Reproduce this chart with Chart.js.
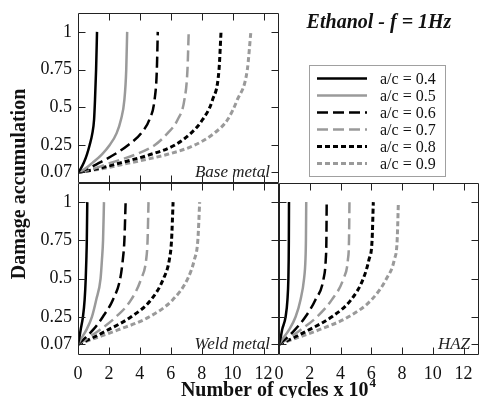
<!DOCTYPE html>
<html>
<head>
<meta charset="utf-8">
<script src="https://cdn.jsdelivr.net/npm/chart.js@4.4.1/dist/chart.umd.min.js"></script>
<style>
  body { margin: 0; background: #fff; }
  #wrap { position: relative; width: 480px; height: 398px; overflow: hidden; }
  #wrap canvas { position: absolute; left: 0; top: 0; }
</style>
</head>
<body>
<div id="wrap">
  <canvas id="baseChart" width="480" height="398"></canvas>
  <canvas id="weldChart" width="480" height="398"></canvas>
  <canvas id="hazChart" width="480" height="398"></canvas>
</div>
<script>
// a/c ratios shown in the legend
const ratios = ['0.4', '0.5', '0.6', '0.7', '0.8', '0.9'];
const xTicks = [0, 2, 4, 6, 8, 10, 12];
const yTicks = [0.07, 0.25, 0.5, 0.75, 1];

// damage levels at which the curves were read (top panel / lower panels)
const damageTop = [0.07, 0.09, 0.135, 0.19, 0.25, 0.33, 0.42, 0.55, 0.75, 1];
const damageLow = [0.07, 0.109, 0.164, 0.25, 0.362, 0.5, 0.625, 0.75, 1];

// number of cycles (x 10^4), one row per a/c
const baseCycles = [
  [0, 0.15, 0.38, 0.58, 0.75, 0.93, 1.04, 1.1, 1.17, 1.23],
  [0, 0.4, 0.95, 1.55, 2.04, 2.5, 2.78, 3.0, 3.12, 3.18],
  [0, 0.54, 1.4, 2.37, 3.23, 4.09, 4.62, 4.95, 5.1, 5.16],
  [0, 0.86, 2.15, 3.76, 4.95, 5.8, 6.45, 6.88, 7.08, 7.16],
  [0, 1.08, 2.8, 4.73, 6.24, 7.31, 8.06, 8.7, 9.12, 9.25],
  [0, 1.29, 3.44, 5.8, 7.53, 8.82, 9.68, 10.3, 10.95, 11.18]
];
const weldCycles = [
  [0, 0.08, 0.17, 0.32, 0.43, 0.5, 0.54, 0.57, 0.6],
  [0, 0.22, 0.54, 0.9, 1.18, 1.46, 1.55, 1.62, 1.68],
  [0, 0.43, 0.97, 1.61, 2.26, 2.73, 2.9, 3.0, 3.08],
  [0, 0.6, 1.4, 2.47, 3.44, 4.09, 4.41, 4.5, 4.56],
  [0, 0.86, 1.94, 3.44, 4.73, 5.53, 5.91, 6.05, 6.15],
  [0, 1.08, 2.58, 4.62, 6.13, 7.1, 7.53, 7.75, 7.87]
];
const hazCycles = [
  [0, 0.1, 0.2, 0.43, 0.55, 0.61, 0.63, 0.64, 0.65],
  [0, 0.26, 0.65, 1.08, 1.4, 1.63, 1.72, 1.75, 1.77],
  [0, 0.47, 1.03, 1.72, 2.37, 2.9, 3.04, 3.08, 3.1],
  [0, 0.6, 1.4, 2.47, 3.44, 4.19, 4.48, 4.55, 4.58],
  [0, 0.86, 1.94, 3.44, 4.69, 5.48, 5.85, 6.05, 6.13],
  [0, 1.08, 2.58, 4.52, 6.02, 6.99, 7.5, 7.68, 7.76]
];

// line styles
const lineColors = ['#000000', '#9a9a9a', '#000000', '#9a9a9a', '#000000', '#9a9a9a'];
const lineDashes = [[], [], [11, 5], [11, 5], [5, 3], [5, 3]];
const lineWidths = [2.5, 2.5, 2.5, 2.5, 3, 3];

const serif = '"Liberation Serif", "Times New Roman", serif';
const tickFont = { family: serif, size: 18 };

function makeDatasets(cycles, damage) {
  return cycles.map((row, i) => ({
    label: 'a/c = ' + ratios[i],
    data: row.map((n, k) => ({ x: n, y: damage[k] })),
    borderColor: lineColors[i],
    borderDash: lineDashes[i],
    borderWidth: lineWidths[i],
    pointRadius: 0,
    fill: false,
    cubicInterpolationMode: 'monotone'
  }));
}

// frame with inward tick marks
const framePlugin = {
  id: 'frame',
  afterDatasetsDraw(chart) {
    const { ctx, chartArea: a, scales } = chart;
    const L = Math.round(a.left) + 0.5, R = Math.round(a.right) - 0.5;
    const T = Math.round(a.top) + 0.5, B = Math.round(a.bottom) - 0.5;
    const len = 7;
    ctx.save();
    ctx.strokeStyle = '#222';
    ctx.lineWidth = 1;
    ctx.setLineDash([]);
    ctx.beginPath();
    ctx.rect(L, T, R - L, B - T);
    xTicks.forEach(v => {
      if (v === 0) return;
      const px = Math.round(scales.x.getPixelForValue(v)) + 0.5;
      ctx.moveTo(px, B); ctx.lineTo(px, B - len);
      ctx.moveTo(px, T); ctx.lineTo(px, T + len);
    });
    yTicks.forEach(v => {
      const py = Math.round(scales.y.getPixelForValue(v)) + 0.5;
      ctx.moveTo(L, py); ctx.lineTo(L + len, py);
      ctx.moveTo(R, py); ctx.lineTo(R - len, py);
    });
    ctx.stroke();
    // panel name, lower right corner
    const name = chart.options.plugins.panelName;
    if (name) {
      ctx.fillStyle = '#222';
      ctx.font = 'italic 17px ' + serif;
      ctx.textAlign = 'right';
      ctx.textBaseline = 'alphabetic';
      ctx.fillText(name, a.right - 9, a.bottom - 6);
    }
    ctx.restore();
  }
};

// title and a/c legend (top right corner)
const legendPlugin = {
  id: 'acLegend',
  afterDraw(chart) {
    const ctx = chart.ctx;
    ctx.save();
    ctx.fillStyle = '#111';
    ctx.font = 'italic bold 20px ' + serif;
    ctx.textAlign = 'center';
    ctx.textBaseline = 'alphabetic';
    ctx.fillText('Ethanol - f = 1Hz', 379, 28);

    ctx.strokeStyle = '#a0a0a0';
    ctx.lineWidth = 1;
    ctx.strokeRect(309.5, 65.5, 136, 111);
    chart.data.datasets.forEach((ds, i) => {
      const y = 78.5 + i * 17;
      ctx.beginPath();
      ctx.setLineDash(ds.borderDash);
      ctx.strokeStyle = ds.borderColor;
      ctx.lineWidth = ds.borderWidth;
      ctx.moveTo(317, y);
      ctx.lineTo(367, y);
      ctx.stroke();
      ctx.setLineDash([]);
      ctx.fillStyle = '#111';
      ctx.font = '16px ' + serif;
      ctx.textAlign = 'left';
      ctx.textBaseline = 'middle';
      ctx.fillText(ds.label, 380, y + 1);
    });
    ctx.restore();
  }
};

// shared axis titles
const axisTitlePlugin = {
  id: 'axisTitles',
  afterDraw(chart) {
    const ctx = chart.ctx;
    ctx.save();
    ctx.fillStyle = '#111';
    ctx.font = 'bold 20px ' + serif;
    ctx.textBaseline = 'middle';
    ctx.textAlign = 'center';
    ctx.translate(20, 184);
    ctx.rotate(-Math.PI / 2);
    ctx.fillText('Damage accumulation', 0, 0);
    ctx.restore();

    ctx.save();
    ctx.fillStyle = '#111';
    ctx.font = 'bold 20px ' + serif;
    ctx.textBaseline = 'alphabetic';
    const main = 'Number of cycles x 10';
    const w = ctx.measureText(main).width;
    ctx.font = 'bold 13px ' + serif;
    const w4 = ctx.measureText('4').width;
    const x0 = 278 - (w + w4) / 2;
    ctx.font = 'bold 20px ' + serif;
    ctx.textAlign = 'left';
    ctx.fillText(main, x0, 396);
    ctx.font = 'bold 13px ' + serif;
    ctx.fillText('4', x0 + w + 1, 387);
    ctx.restore();
  }
};

function panelOptions(opt) {
  return {
    responsive: false,
    animation: false,
    layout: { padding: opt.padding },
    plugins: {
      legend: { display: false },
      tooltip: { enabled: false },
      panelName: opt.name
    },
    scales: {
      x: {
        type: 'linear',
        min: 0,
        max: 13,
        display: opt.showX,
        afterBuildTicks: s => { s.ticks = xTicks.map(v => ({ value: v })); },
        afterFit: s => {
          if (!opt.showX) return;
          s.height = 43; s.paddingLeft = 0; s.paddingRight = 0;
        },
        grid: { display: false, drawTicks: false },
        border: { display: false },
        ticks: { color: '#111', font: tickFont, padding: 8, maxRotation: 0, autoSkip: false }
      },
      y: {
        type: 'linear',
        min: 0,
        max: 1.125,
        display: opt.showY,
        afterBuildTicks: s => { s.ticks = yTicks.map(v => ({ value: v })); },
        afterFit: s => {
          if (!opt.showY) return;
          s.width = 78; s.paddingTop = 0; s.paddingBottom = 0;
        },
        grid: { display: false, drawTicks: false },
        border: { display: false },
        ticks: { color: '#111', font: tickFont, padding: 6, callback: v => String(v) }
      }
    }
  };
}

new Chart(document.getElementById('baseChart'), {
  type: 'line',
  data: { datasets: makeDatasets(baseCycles, damageTop) },
  options: panelOptions({ padding: { left: 0, top: 13, right: 201, bottom: 215 }, showX: false, showY: true, name: 'Base metal' }),
  plugins: [framePlugin, legendPlugin]
});

new Chart(document.getElementById('weldChart'), {
  type: 'line',
  data: { datasets: makeDatasets(weldCycles, damageLow) },
  options: panelOptions({ padding: { left: 0, top: 183, right: 201, bottom: 0 }, showX: true, showY: true, name: 'Weld metal' }),
  plugins: [framePlugin, axisTitlePlugin]
});

new Chart(document.getElementById('hazChart'), {
  type: 'line',
  data: { datasets: makeDatasets(hazCycles, damageLow) },
  options: panelOptions({ padding: { left: 279, top: 183, right: 1, bottom: 0 }, showX: true, showY: false, name: 'HAZ' }),
  plugins: [framePlugin]
});
</script>
</body>
</html>
